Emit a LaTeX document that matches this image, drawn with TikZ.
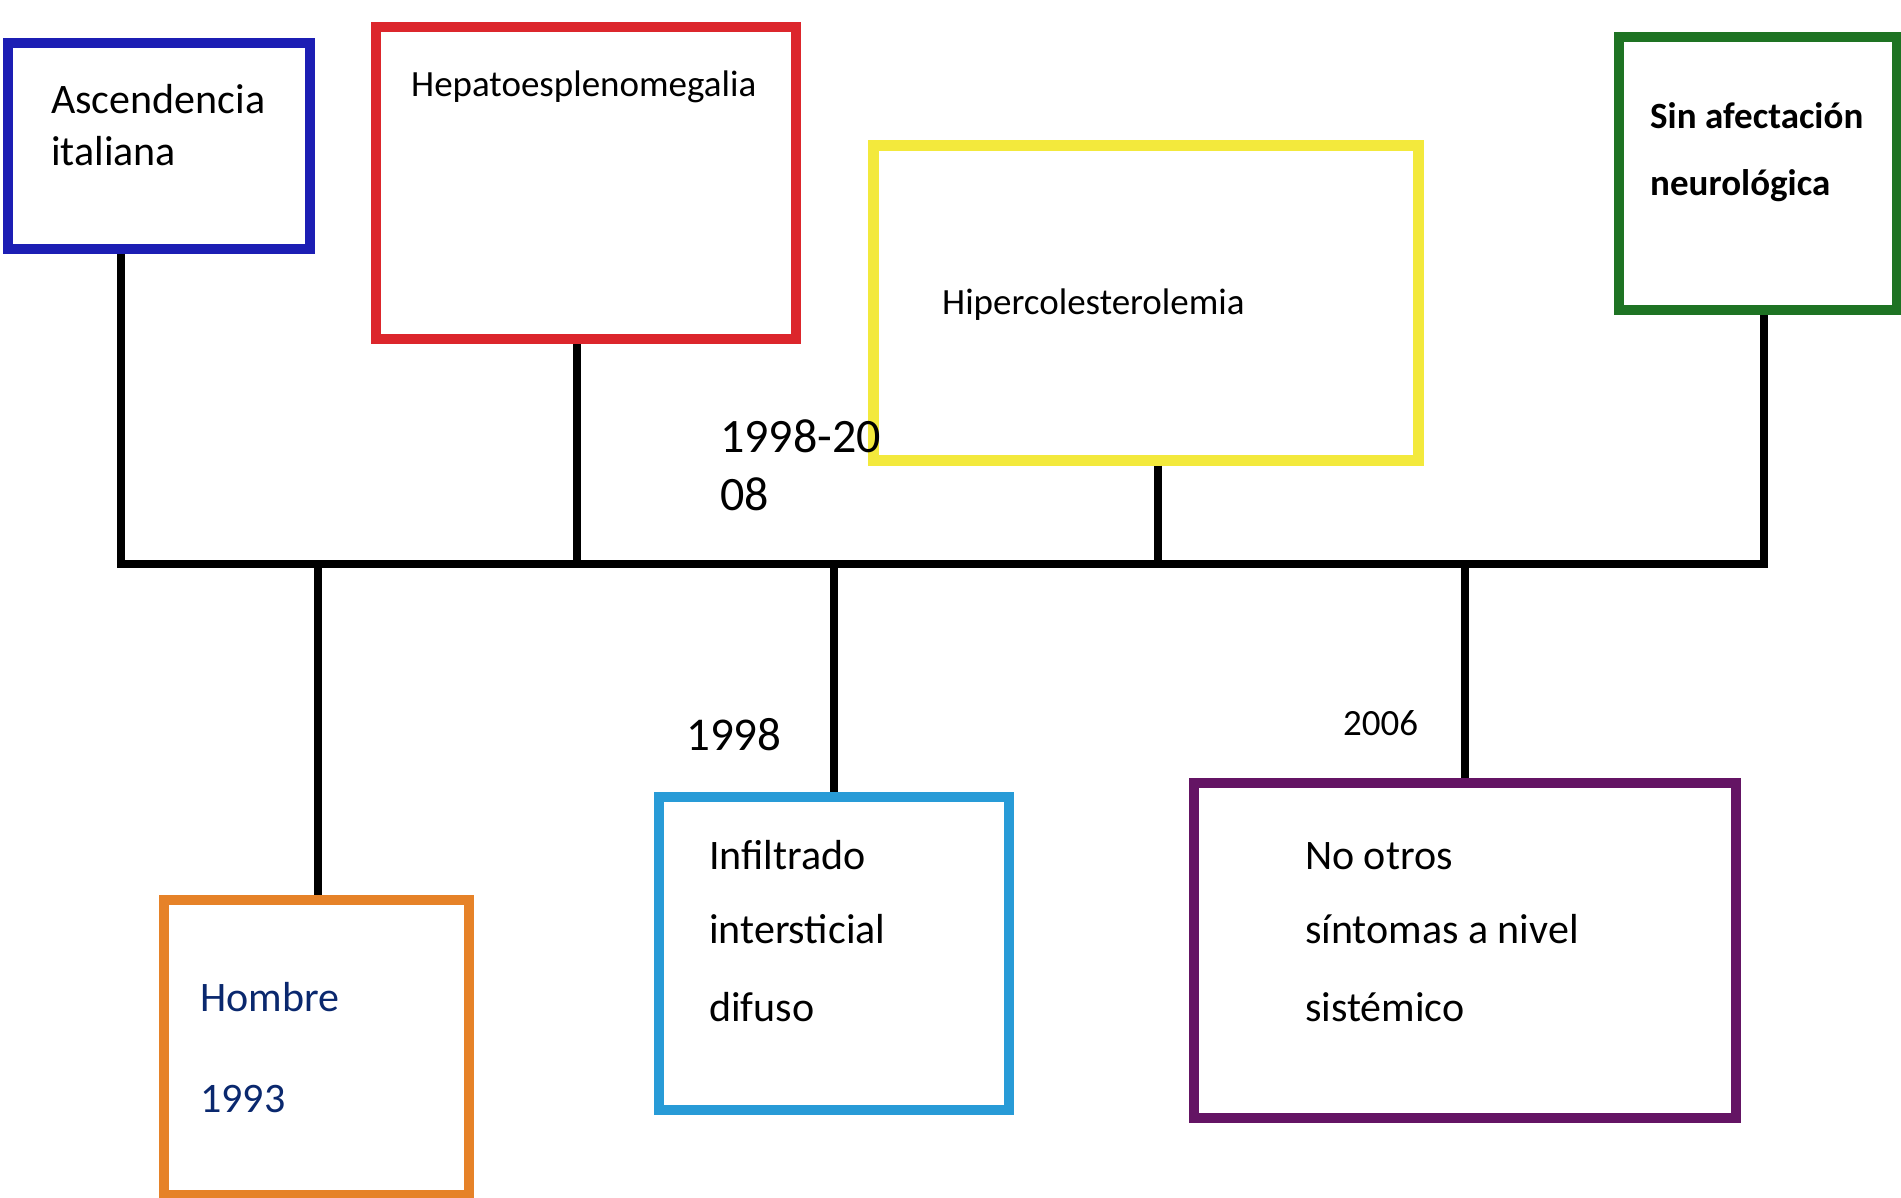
\documentclass[tikz,border=0pt]{standalone}
\usepackage{fontspec}
\setmainfont{Carlito}
\definecolor{cblue}{RGB}{28,30,180}
\definecolor{cred}{RGB}{220,38,44}
\definecolor{cyellow}{RGB}{243,233,60}
\definecolor{cgreen}{RGB}{30,115,35}
\definecolor{corange}{RGB}{230,130,40}
\definecolor{ccyan}{RGB}{40,155,215}
\definecolor{cpurple}{RGB}{100,20,100}
\definecolor{cnavy}{RGB}{10,40,110}
\tikzset{
  box/.style={draw=#1, line width=10pt, rectangle, inner sep=0pt, fill=white},
  conn/.style={draw=black, line width=7.5pt, line join=miter},
  txt/.style={anchor=base west, inner sep=0pt, font=\fontsize{#1}{#1}\selectfont},
}
\begin{document}
\begin{tikzpicture}[x=1pt,y=-1pt]
\useasboundingbox (0,0) rectangle (1901,1198);
\clip (0,0) rectangle (1901,1198);
\fill[white] (0,0) rectangle (1901,1198);
% junction coordinates on the bus
\coordinate (j1) at (121,564);
\coordinate (j2) at (318,564);
\coordinate (j3) at (577,564);
\coordinate (j4) at (834,564);
\coordinate (j5) at (1158,564);
\coordinate (j6) at (1465,564);
\coordinate (j7) at (1764,564);
% boxes
\node[box=cblue, minimum width=302pt, minimum height=206pt] (asc) at (159,146) {};
\node[box=cred, minimum width=420pt, minimum height=312pt] (hep) at (586,183) {};
\node[box=cyellow, line width=11pt, minimum width=545pt, minimum height=314pt] (hip) at (1145.5,303) {};
\node[box=cgreen, minimum width=278pt, minimum height=273pt] (sin) at (1758,173.5) {};
\node[box=corange, minimum width=305pt, minimum height=295pt] (hom) at (316.5,1047.5) {};
\node[box=ccyan, minimum width=350pt, minimum height=313pt] (inf) at (834,953.5) {};
\node[box=cpurple, minimum width=542pt, minimum height=335pt] (noo) at (1465,950.5) {};
% connectors
\draw[conn] (asc.south -| j1) -- (j1) -- (j7) -- (sin.south -| j7);
\draw[conn] (hep.south -| j3) -- (j3);
\draw[conn] (hip.south -| j5) -- (j5);
\draw[conn] (j2) -- (hom.north -| j2);
\draw[conn] (j4) -- (inf.north -| j4);
\draw[conn] (j6) -- (noo.north -| j6);
% texts
\node[txt=42] (t1a) at (51,114) {Ascendencia};
\node[txt=42] (t1b) at (51,166) {italiana};
\node[txt=37] (t2) at (411,97) {Hepatoesplenomegalia};
\node[txt=37] (t3) at (942,315) {Hipercolesterolemia};
\node[txt=37, font=\fontsize{37}{37}\selectfont\bfseries] (t4a) at (1650,129) {Sin afectación};
\node[txt=37, font=\fontsize{37}{37}\selectfont\bfseries] (t4b) at (1650,196) {neurológica};
\node[txt=48] (y1a) at (720,452) {1998-20};
\node[txt=48] (y1b) at (720,510) {08};
\node[txt=47] (y2) at (686,750) {1998};
\node[txt=37] (y3) at (1343,735) {2006};
\node[txt=42, text=cnavy] (t5a) at (200,1011) {Hombre};
\node[txt=42, text=cnavy] (t5b) at (200,1112) {1993};
\node[txt=42] (t6a) at (709,869) {Infiltrado};
\node[txt=42] (t6b) at (709,943) {intersticial};
\node[txt=42] (t6c) at (709,1021) {difuso};
\node[txt=42] (t7a) at (1305,869) {No otros};
\node[txt=42] (t7b) at (1305,943) {síntomas a nivel};
\node[txt=42] (t7c) at (1305,1021) {sistémico};
\end{tikzpicture}
\end{document}
